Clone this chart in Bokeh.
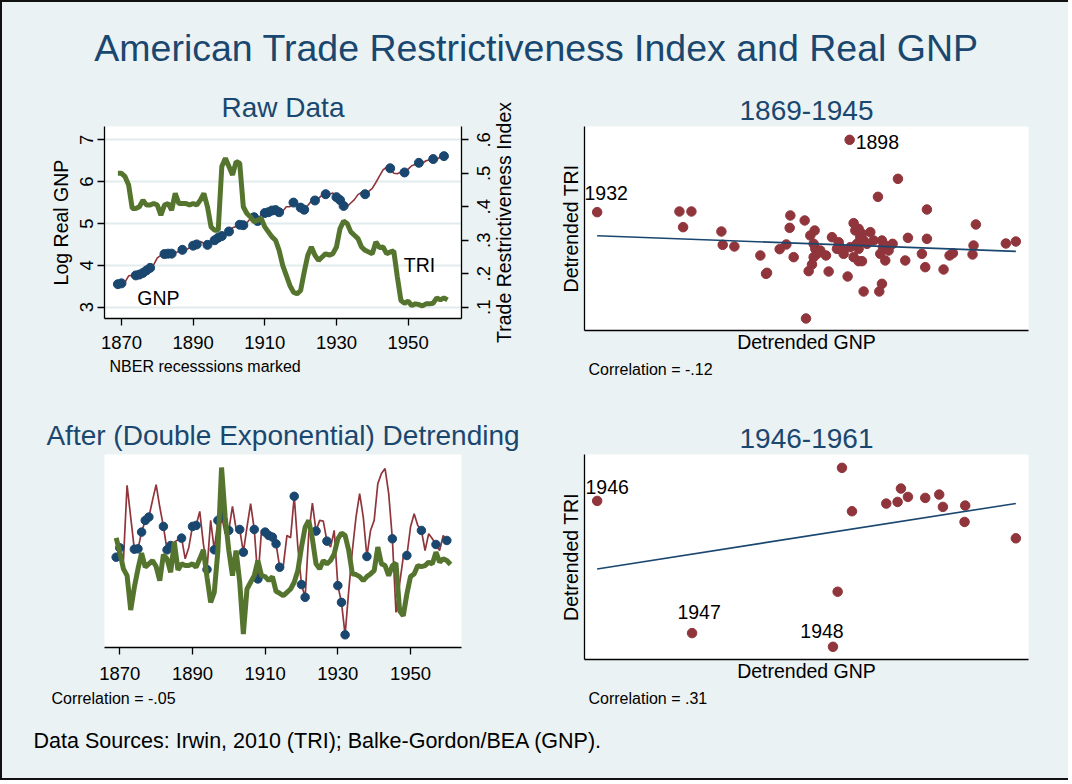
import math
import numpy as np
from bokeh.plotting import figure
from bokeh.layouts import column, row
from bokeh.models import (Range1d, LinearAxis, FixedTicker, Title, ColumnDataSource,
                          CustomJSTickFormatter)
from bokeh.embed import file_html
from bokeh.resources import INLINE
from bokeh.core.properties import value

# ---------------------------------------------------------------- data
main_title = "American Trade Restrictiveness Index and Real GNP"
footer_text = "Data Sources: Irwin, 2010 (TRI); Balke-Gordon/BEA (GNP)."

years = list(range(1869, 1962))

log_gnp = [3.55, 3.57, 3.60, 3.75, 3.76, 3.76, 3.78, 3.82, 3.88, 3.94,
           4.02, 4.18, 4.24, 4.27, 4.28, 4.28, 4.30, 4.33, 4.37, 4.37,
           4.42, 4.47, 4.50, 4.57, 4.53, 4.49, 4.60, 4.60, 4.66, 4.70,
           4.78, 4.81, 4.90, 4.93, 4.97, 4.96, 5.02, 5.12, 5.15, 5.06,
           5.22, 5.25, 5.27, 5.31, 5.32, 5.27, 5.29, 5.40, 5.40, 5.50,
           5.45, 5.38, 5.33, 5.43, 5.54, 5.55, 5.60, 5.68, 5.70, 5.70,
           5.73, 5.63, 5.56, 5.42, 5.41, 5.49, 5.57, 5.69, 5.74, 5.70,
           5.77, 5.84, 5.98, 6.13, 6.28, 6.35, 6.32, 6.20, 6.19, 6.23,
           6.22, 6.30, 6.38, 6.41, 6.45, 6.44, 6.50, 6.52, 6.54, 6.53,
           6.59, 6.61, 6.63]

tri = [0.500, 0.500, 0.490, 0.465, 0.395, 0.395, 0.400, 0.420, 0.405, 0.405,
       0.410, 0.405, 0.375, 0.405, 0.410, 0.390, 0.440, 0.410, 0.410, 0.410,
       0.405, 0.410, 0.405, 0.420, 0.440, 0.400, 0.340, 0.330, 0.330, 0.520,
       0.545, 0.520, 0.495, 0.535, 0.530, 0.400, 0.380, 0.370, 0.355, 0.360,
       0.365, 0.340, 0.325, 0.310, 0.300, 0.270, 0.225, 0.195, 0.165, 0.145,
       0.140, 0.150, 0.205, 0.255, 0.280, 0.255, 0.240, 0.250, 0.260, 0.255,
       0.260, 0.280, 0.335, 0.357, 0.350, 0.325, 0.315, 0.305, 0.280, 0.270,
       0.265, 0.260, 0.295, 0.278, 0.280, 0.260, 0.265, 0.268, 0.190, 0.120,
       0.112, 0.118, 0.105, 0.110, 0.108, 0.104, 0.110, 0.110, 0.112, 0.128,
       0.122, 0.128, 0.122]

gnp_detrended = [-0.40, 0.16, -0.60, 3.90, 2.00, 0.08, 0.10, 1.10, 1.80, 2.00,
                 3.00, 3.94, 2.60, 1.44, 0.04, 0.30, 0.50, 0.64, 0.74, -0.50,
                 0.20, 1.44, 1.50, 2.34, 0.40, -1.14, 1.80, 0.04, 1.80, 2.10,
                 1.00, 1.20, 2.64, 1.30, 1.26, -0.10, 1.40, 2.80, 1.26, -1.70,
                 1.20, 1.10, 0.90, 0.80, 0.40, -1.00, -0.90, 0.90, 0.76, 3.24,
                 0.20, -2.04, -2.80, 1.00, 2.84, 1.16, 1.80, 1.76, 0.56, 0.20,
                 1.20, -2.10, -3.10, -5.04, -2.40, 0.00, 2.00, 3.40, 2.00, -0.36,
                 1.20, 1.80, 4.00, 4.60, 4.90, 3.40, 0.70, -3.70, -2.00, -0.40,
                 -0.30, 1.40, 2.20, 1.50, 1.20, 0.00, 1.00, 0.70, 0.36, 0.00,
                 0.90, 0.60, 0.56]

tri_detrended = [0.76, -0.10, -1.10, -1.50, -3.56, -2.20, -1.10, -0.16, -1.00, -0.80,
                 -0.60, -0.96, -1.80, -0.24, -0.50, -1.30, 0.50, -1.16, -0.80, -0.90,
                 -0.90, -0.80, -1.00, -0.50, 0.04, -1.60, -3.10, -2.50, 0.00, 4.96,
                 2.00, 0.00, -1.50, 0.00, -1.90, -5.00, -2.30, -1.90, -1.50, -0.60,
                 -1.50, -1.56, -1.80, -1.56, -2.44, -2.56, -2.70, -2.50, -2.30, -1.90,
                 -1.20, 0.20, 1.40, 1.80, 0.70, -0.80, -1.10, -0.60, -0.80, -0.60,
                 -0.20, 0.70, 1.04, 0.90, 0.00, -1.40, -1.44, -1.56, -1.80, -1.56,
                 -1.40, -1.20, 0.20, -0.80, -0.90, -1.50, -0.90, -0.76, -3.60, -3.90,
                 -2.60, -1.56, -1.40, -0.90, -0.96, -0.90, -0.70, -0.80, -0.10, -0.70,
                 -0.50, -0.60, -0.84]

recession_years = [1869, 1870, 1874, 1875, 1876, 1877, 1878, 1882, 1883, 1884,
                   1887, 1890, 1891, 1894, 1896, 1897, 1898, 1900, 1903, 1904,
                   1907, 1908, 1910, 1911, 1912, 1913, 1914, 1918, 1920, 1921,
                   1924, 1927, 1930, 1931, 1932, 1938, 1945, 1949, 1953, 1957, 1960]

x_ticks = [1870, 1890, 1910, 1930, 1950]
gnp_ticks = [3, 4, 5, 6, 7]
tri_ticks = [0.1, 0.2, 0.3, 0.4, 0.5, 0.6]

# scatter 1869-1945: detrended GNP (x) vs detrended TRI (y)
sc1_gnp = [-6.30, -3.83, -3.47, -3.72, -2.57, -2.53, -2.18, -1.40, -1.23, -1.20,
           -0.82, -0.62, -0.50, -0.52, -0.40, -0.07, 0.23, 0.10, 0.20, 0.25,
           0.30, 0.40, 0.15, 0.05, -0.03, 0.57, 0.65, 0.75, 0.95, 1.00,
           1.10, 1.05, 1.22, 1.28, 1.40, 1.45, 1.55, 1.60, 1.50, 1.55,
           1.40, 1.55, 1.65, 1.70, 1.80, 1.90, 2.00, 1.70, 2.13, 2.25,
           2.28, 2.20, 2.35, 2.45, 2.57, 2.25, 2.17, 2.73, 2.95, 3.03,
           3.45, 3.55, 3.60, 3.60, 4.10, 4.28, 4.38, 4.97, 5.00, 5.07,
           5.97, 6.27, 1.30, 0.90, 2.35, 0.20, 1.65]
sc1_tri = [0.95, 0.97, 0.97, 0.50, 0.37, -0.03, -0.08, -0.35, -0.90, -0.87,
           -0.16, -0.02, 0.85, 0.48, -0.40, 0.70, 0.40, 0.25, 0.00, -0.15,
           -0.30, -0.20, -0.62, -0.82, -2.24, -0.35, -0.83, 0.20, 0.05, -0.10,
           -0.30, -0.20, -0.98, 3.12, 0.62, 0.40, 0.45, 0.20, 0.00, -0.15,
           -0.40, -0.52, -0.52, 0.10, 0.00, 0.35, 0.10, -1.43, 1.41, 0.10,
           -0.10, -0.30, -0.50, -0.20, 0.00, -1.20, -1.43, 1.95, -0.50, 0.18,
           -0.30, -0.70, 1.03, 0.15, -0.77, -0.35, -0.28, -0.32, -0.05, 0.58,
           0.01, 0.07, -0.10, -0.15, -0.05, -0.40, 0.30]
sc1_label_index = [0, 33]
sc1_label_text = ["1932", "1898"]

# scatter 1946-1961
sc2_gnp = [-6.30, -3.45, 0.78, 1.05, 1.35, 2.38, 2.72, 2.82, 3.03, 3.55,
           3.97, 4.08, 4.75, 4.73, 6.27, 0.92]
sc2_tri = [2.18, -1.78, -2.19, 3.17, 1.87, 2.10, 2.15, 2.55, 2.30, 2.27,
           2.37, 2.00, 2.04, 1.55, 1.06, -0.54]
sc2_label_index = [0, 1, 2]
sc2_label_text = ["1946", "1947", "1948"]

# ---------------------------------------------------------------- style
BG = "#EAF2F3"
NAVY = "#1A476F"
MAROON = "#90353B"
GREEN = "#55752F"
FONT = "Liberation Sans"
GRID = "#E2EBEE"


def base(w, h, ml, mr, mt, mb, xr, yr, title=None, title_standoff=8, **kw):
    p = figure(width=w, height=h, x_range=xr, y_range=yr,
               output_backend="svg", toolbar_location=None,
               min_border_left=ml, min_border_right=mr,
               min_border_top=mt, min_border_bottom=mb, **kw)
    p.border_fill_color = BG
    p.background_fill_color = "white"
    p.outline_line_color = None
    p.grid.visible = False
    if title:
        p.title.text = title
        p.title.align = "center"
        p.title.text_font = FONT
        p.title.text_font_size = "28px"
        p.title.text_font_style = "normal"
        p.title.text_color = NAVY
        p.title.standoff = title_standoff
    return p


def style_axis(ax, ticks=None):
    ax.axis_line_color = "#000000"
    ax.axis_line_width = 1.3
    ax.major_tick_line_color = "#000000"
    ax.major_tick_line_width = 1.3
    ax.major_tick_in = 0
    ax.minor_tick_in = 0
    ax.minor_tick_out = 0
    ax.minor_tick_line_color = None
    ax.major_label_text_font = FONT
    ax.major_label_text_font_size = "18.5px"
    ax.major_label_text_color = "#000000"
    ax.axis_label_text_font = FONT
    ax.axis_label_text_font_size = "19.5px"
    ax.axis_label_text_font_style = "normal"
    ax.axis_label_text_color = "#000000"
    if ticks is None:
        ax.ticker = FixedTicker(ticks=[])
        ax.major_tick_out = 0
        ax.major_label_standoff = 0
    else:
        ax.ticker = FixedTicker(ticks=ticks)
        ax.major_tick_out = 7


def note(p, text, offset, standoff):
    p.add_layout(Title(text=text, align="left", offset=offset, standoff=standoff,
                       text_font=FONT, text_font_size="16px",
                       text_font_style="normal", text_color="#000000"), "below")


rec_idx = [years.index(y) for y in recession_years]
tri_range = (0.0663, 0.6398)
tri_fmt = "return tick.toFixed(1).replace(/^0/, '');"

# ---------------------------------------------------------------- header
header = figure(width=1068, height=78, x_range=Range1d(0, 1068), y_range=Range1d(78, 0),
                x_axis_type=None, y_axis_type=None, min_border=0,
                output_backend="svg", toolbar_location=None)
header.border_fill_color = BG
header.background_fill_color = BG
header.outline_line_color = None
header.grid.visible = False
header.text(x=[536], y=[47], text=[main_title], text_align="center",
            text_baseline="middle", text_font=value(FONT), text_font_size="37.5px",
            text_color=NAVY)

# ---------------------------------------------------------------- raw data
p1 = base(473, 307, 104, 12, 48, 67, Range1d(1865.26, 1964.9), Range1d(2.73, 7.318),
          "Raw Data")
p1.title.offset = 63 / 2
p1.extra_y_ranges = {"tri": Range1d(*tri_range)}
style_axis(p1.xaxis[0], x_ticks)
p1.xaxis[0].major_label_standoff = 10
style_axis(p1.yaxis[0], gnp_ticks)
p1.yaxis[0].major_label_orientation = "vertical"
p1.yaxis[0].major_label_standoff = 4
p1.yaxis[0].axis_label = "Log Real GNP"
p1.yaxis[0].axis_label_standoff = 6
p1.ygrid.visible = True
p1.ygrid.ticker = FixedTicker(ticks=gnp_ticks)
p1.ygrid.grid_line_color = GRID
p1.ygrid.grid_line_width = 2
# tick marks of the right-hand TRI scale (its numbers sit in the narrow panel beside)
rtick = LinearAxis(y_range_name="tri")
style_axis(rtick, tri_ticks)
rtick.formatter = CustomJSTickFormatter(code="return '';")
rtick.major_label_text_color = None
rtick.major_label_standoff = 0
p1.add_layout(rtick, "right")

p1.line(years, log_gnp, line_color=MAROON, line_width=1.6)
p1.scatter([years[i] for i in rec_idx], [log_gnp[i] for i in rec_idx],
           size=9, fill_color=NAVY, line_color=NAVY)
p1.line(years, tri, y_range_name="tri", line_color=GREEN, line_width=5)
p1.text(x=[1874.4], y=[3.21], text=["GNP"], text_align="left", text_baseline="middle",
        text_font=value(FONT), text_font_size="19.5px", text_color="#000000")
p1.text(x=[1948.8], y=[0.225], text=["TRI"], y_range_name="tri", text_align="left",
        text_baseline="middle", text_font=value(FONT), text_font_size="19.5px",
        text_color="#000000")
note(p1, "NBER recesssions marked", 5, 9)

# right-hand TRI scale numbers and title (narrow panel so the text reads upward)
ptri = figure(width=63, height=307, x_range=Range1d(0, 1), y_range=Range1d(*tri_range),
              x_axis_type=None, output_backend="svg", toolbar_location=None,
              min_border_left=41, min_border_right=0, min_border_top=48,
              min_border_bottom=67)
ptri.border_fill_color = BG
ptri.background_fill_color = BG
ptri.outline_line_color = None
ptri.grid.visible = False
ta = ptri.yaxis[0]
style_axis(ta)
ta.axis_line_color = None
ta.axis_label = "Trade Restrictiveness Index"
ta.axis_label_standoff = 0
tl = LinearAxis()
style_axis(tl, tri_ticks)
tl.axis_line_color = None
tl.major_tick_out = 0
tl.major_tick_line_color = None
tl.major_label_orientation = "vertical"
tl.major_label_standoff = -1
tl.formatter = CustomJSTickFormatter(code=tri_fmt)
ptri.add_layout(tl, "left")


# ---------------------------------------------------------------- scatters
def scatter_panel(title, xs, ys, yr, h, mt, mb, label_idx, label_text, offsets, corr):
    p = base(532, h, 48, 40, mt, mb, Range1d(-6.68, 6.65), yr, title, title_standoff=13)
    style_axis(p.xaxis[0])
    style_axis(p.yaxis[0])
    p.xaxis[0].axis_label = "Detrended GNP"
    p.xaxis[0].axis_label_standoff = 0
    p.yaxis[0].axis_label = "Detrended TRI"
    p.yaxis[0].axis_label_standoff = 3
    p.scatter(xs, ys, size=9.5, fill_color=MAROON, line_color=MAROON)
    slope, icpt = np.polyfit(np.array(xs), np.array(ys), 1)
    x0, x1 = min(xs), max(xs)
    p.line([x0, x1], [icpt + slope * x0, icpt + slope * x1], line_color=NAVY, line_width=1.6)
    src = ColumnDataSource(dict(
        x=[xs[i] for i in label_idx], y=[ys[i] for i in label_idx], t=label_text,
        dx=[o[0] for o in offsets], dy=[o[1] for o in offsets],
        al=[o[2] for o in offsets]))
    p.text(x="x", y="y", text="t", x_offset="dx", y_offset="dy", text_align="al",
           text_baseline="middle", source=src, text_font=value(FONT),
           text_font_size="19.5px", text_color="#000000")
    note(p, corr, 4, 7)
    return p


p2 = scatter_panel("1869-1945", sc1_gnp, sc1_tri, Range1d(-2.60, 3.52), 307, 48, 55,
                   sc1_label_index, sc1_label_text,
                   [(9, -19, "center"), (6, 2, "left")], "Correlation = -.12")
p4 = scatter_panel("1946-1961", sc2_gnp, sc2_tri, Range1d(-2.57, 3.57), 327, 69, 53,
                   sc2_label_index, sc2_label_text,
                   [(10, -14, "center"), (7, -21, "center"), (-11, -16, "center")],
                   "Correlation = .31")

# ---------------------------------------------------------------- detrended
p3 = base(536, 327, 104, 75, 69, 65, Range1d(1865.79, 1964.03), Range1d(-5.8, 5.74),
          "After (Double Exponential) Detrending")
style_axis(p3.xaxis[0], x_ticks)
p3.xaxis[0].major_label_standoff = 12
p3.yaxis[0].visible = False
p3.line(years, gnp_detrended, line_color=MAROON, line_width=1.7)
p3.scatter([years[i] for i in rec_idx], [gnp_detrended[i] for i in rec_idx],
           size=8.5, fill_color=NAVY, line_color=NAVY)
p3.line(years, tri_detrended, line_color=GREEN, line_width=5)
note(p3, "Correlation = -.05", -53, 11)

# ---------------------------------------------------------------- footer
footer = figure(width=1068, height=68, x_range=Range1d(0, 1068), y_range=Range1d(68, 0),
                x_axis_type=None, y_axis_type=None, min_border=0,
                output_backend="svg", toolbar_location=None)
footer.border_fill_color = BG
footer.background_fill_color = BG
footer.outline_line_color = None
footer.grid.visible = False
footer.text(x=[33], y=[28], text=[footer_text], text_align="left", text_baseline="middle",
            text_font=value(FONT), text_font_size="21.5px", text_color="#000000")

frame_css = (":host { position: relative; } "
             ":host::after { content: ''; position: absolute; left: 0; top: 0; right: 0; "
             "bottom: 0; border-left: 2px solid #111111; border-top: 2px solid #111111; "
             "border-bottom: 2px solid #111111; pointer-events: none; z-index: 50; }")

bgs = {"background-color": BG}
left_col = column(row(p1, ptri, spacing=0, styles=bgs), p3, spacing=0, styles=bgs)
right_col = column(p2, p4, spacing=0, styles=bgs)
layout = column(header, row(left_col, right_col, spacing=0, styles=bgs), footer,
                spacing=0, styles=bgs, stylesheets=[frame_css])

open("out.html", "w").write(file_html(layout, INLINE))
